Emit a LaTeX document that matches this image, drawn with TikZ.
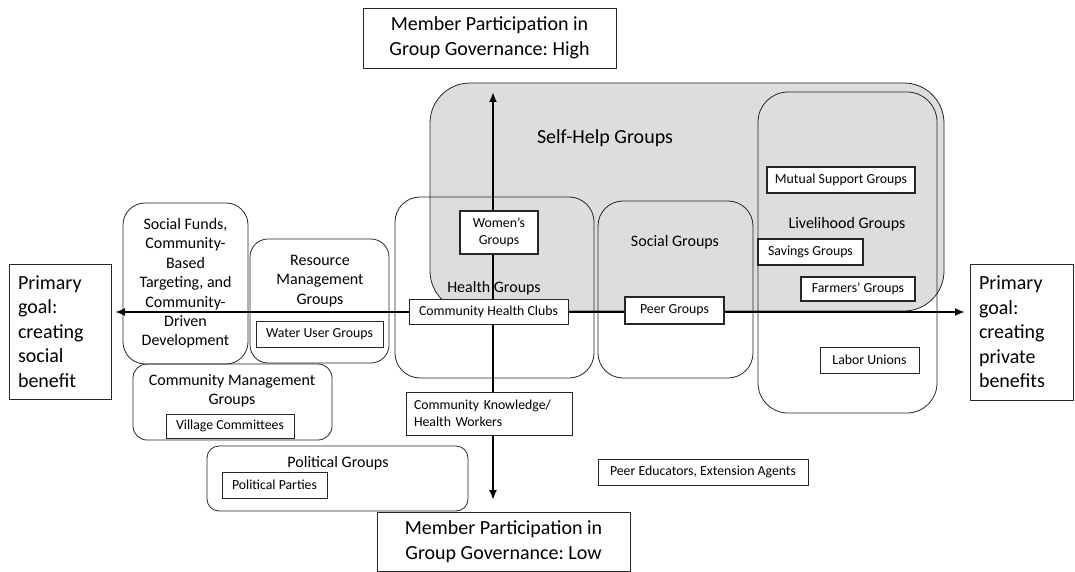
\documentclass[tikz,border=0pt]{standalone}
\usepackage{fontspec}
\setmainfont{Carlito}
\usepackage{tikz}
\usetikzlibrary{arrows.meta}
\frenchspacing
\definecolor{shadeGray}{HTML}{DCDDDF}
\definecolor{lineDark}{HTML}{262626}
\newcommand{\bigtxt}{\fontsize{20}{24.5}\selectfont}
\newcommand{\midtxt}{\fontsize{16}{19.4}\selectfont}
\newcommand{\smalltxt}{\fontsize{13.8}{16.8}\selectfont}
\tikzset{
  groupbox/.style={draw=lineDark,line width=0.8pt,inner sep=0pt},
  tagbox/.style={draw=lineDark,fill=white,line width=0.8pt,inner sep=0pt,font=\smalltxt,align=center},
  boldtag/.style={tagbox,line width=2.6pt},
  goalbox/.style={draw=lineDark,fill=white,line width=0.8pt,inner xsep=9pt,inner ysep=0pt,font=\bigtxt,align=left},
  axisarrow/.style={line width=2.4pt,{Latex[length=10pt,width=8pt]}-{Latex[length=10pt,width=8pt]}}
}
\begin{document}
\begin{tikzpicture}[x=1pt,y=-1pt]
\useasboundingbox (0,0) rectangle (1075,572);
\node[groupbox,fill=shadeGray,rounded corners=40pt,minimum width=514pt,minimum height=228pt] (selfhelp) at (687,197) {};
\coordinate (westEnd) at (115,312);
\coordinate (eastEnd) at (965,312);
\coordinate (highEnd) at (493,92);
\coordinate (lowEnd) at (493,500);
\draw[axisarrow] (westEnd) -- (eastEnd);
\draw[axisarrow] (lowEnd) -- (highEnd);
\node[groupbox,rounded corners=30pt,minimum width=179pt,minimum height=321pt] (livelihood) at (847.5,252.5) {};
\node[groupbox,rounded corners=25pt,minimum width=199pt,minimum height=181pt] (health) at (494.5,287.5) {};
\node[groupbox,rounded corners=25pt,minimum width=155pt,minimum height=177pt] (social) at (675.5,289.5) {};
\node[groupbox,rounded corners=22pt,minimum width=125pt,minimum height=161pt,font=\midtxt,align=center] (funds) at (185.5,283.5)
  {Social Funds,\\Community-\\Based\\Targeting, and\\Community-\\Driven\\Development};
\node[groupbox,rounded corners=18pt,minimum width=139pt,minimum height=124pt] (resource) at (319.5,301) {};
\node[groupbox,rounded corners=14pt,minimum width=199pt,minimum height=76pt] (commgmt) at (232.5,402) {};
\node[groupbox,rounded corners=12pt,minimum width=261pt,minimum height=65pt] (political) at (337.5,478.5) {};
\node[font=\bigtxt] (selfhelpLbl) at (605,138) {Self-Help Groups};
\node[font=\midtxt] (livelihoodLbl) at (847,224) {Livelihood Groups};
\node[font=\midtxt] (healthLbl) at (494,288) {Health Groups};
\node[font=\midtxt] (socialLbl) at (675,242) {Social Groups};
\node[font=\midtxt,align=center] (resourceLbl) at (320,281) {Resource\\Management\\Groups};
\node[font=\midtxt,align=center] (commgmtLbl) at (232,391) {Community Management\\Groups};
\node[font=\midtxt] (politicalLbl) at (338,463) {Political Groups};
\node[boldtag,minimum width=78pt,minimum height=43pt] (women) at (499,232.5) {Women’s\\Groups};
\node[tagbox,minimum width=159pt,minimum height=25pt] (clubs) at (488.5,311.5) {Community Health Clubs};
\node[boldtag,minimum width=99pt,minimum height=27pt] (peer) at (674.5,310.5) {Peer Groups};
\node[tagbox,inner xsep=8pt,text width=150pt,align=left,minimum height=43pt] (knowledge) at (489,413.5) {Community Knowledge/\\Health Workers};
\node[boldtag,minimum width=148pt,minimum height=26pt] (mutual) at (841,180) {Mutual Support Groups};
\node[boldtag,minimum width=105pt,minimum height=26pt] (savings) at (810.5,252) {Savings Groups};
\node[boldtag,minimum width=114pt,minimum height=24pt] (farmers) at (858,289) {Farmers’ Groups};
\node[tagbox,minimum width=99pt,minimum height=26pt] (labor) at (869.5,360) {Labor Unions};
\node[tagbox,minimum width=127pt,minimum height=26pt] (water) at (319.5,334) {Water User Groups};
\node[tagbox,minimum width=128pt,minimum height=24pt] (village) at (230,426) {Village Committees};
\node[tagbox,minimum width=105pt,minimum height=26pt] (parties) at (274.5,485) {Political Parties};
\node[tagbox,minimum width=210pt,minimum height=26pt] (educators) at (703,472) {Peer Educators, Extension Agents};
\node[goalbox,text width=84pt,minimum height=135pt] (socialGoal) at (60,331.5) {Primary\\goal:\\creating\\social\\benefit};
\node[goalbox,text width=85pt,minimum height=136pt] (privateGoal) at (1021.5,332) {Primary\\goal:\\creating\\private\\benefits};
\node[goalbox,align=center,minimum width=253pt,minimum height=60pt] (highGov) at (489.5,38) {Member Participation in\\Group Governance: High};
\node[goalbox,align=center,minimum width=253pt,minimum height=59pt] (lowGov) at (503.5,541.5) {Member Participation in\\Group Governance: Low};
\end{tikzpicture}
\end{document}
